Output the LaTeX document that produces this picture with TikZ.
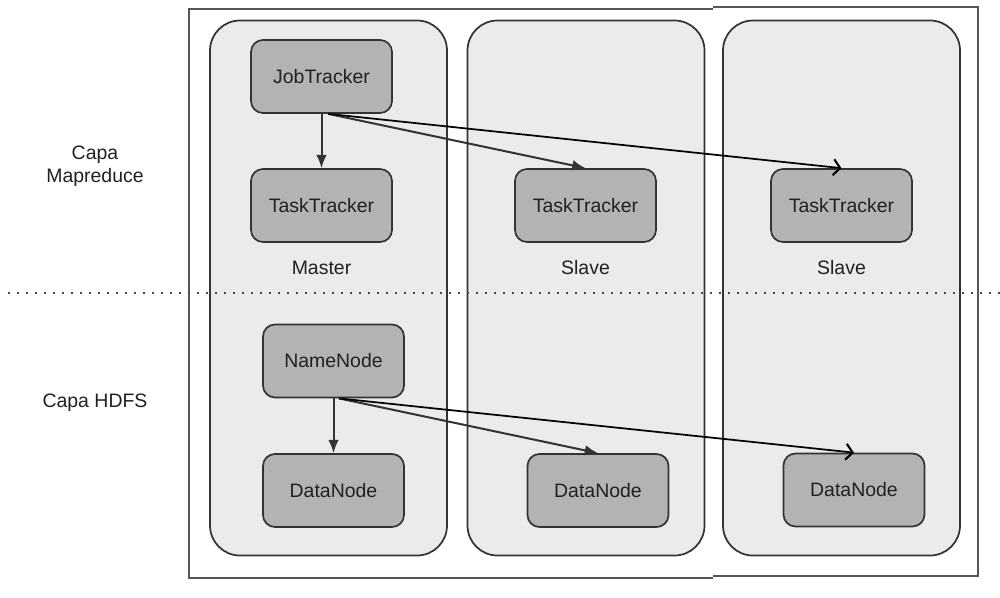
\documentclass[tikz,border=0pt]{standalone}
\usepackage{fontspec}
\setmainfont{Liberation Sans}
\usetikzlibrary{arrows.meta}
\definecolor{colfill}{HTML}{EBEBEB}
\definecolor{boxfill}{HTML}{B3B3B3}
\definecolor{strk}{HTML}{333333}
\definecolor{frame}{HTML}{555555}
\begin{document}
\begin{tikzpicture}[x=0.75pt,y=-0.75pt,
  column/.style={draw=strk,fill=colfill,line width=1.3pt,rounded corners=22.5pt,
    minimum width=177.75pt,minimum height=401.25pt,inner sep=0pt},
  comp/.style={draw=strk,fill=boxfill,line width=1.3pt,rounded corners=9pt,
    minimum width=105.75pt,minimum height=54.75pt,inner sep=0pt,
    font=\fontsize{14.6pt}{17pt}\selectfont,text=black!87},
  lbl/.style={font=\fontsize{14.6pt}{17pt}\selectfont,text=black!87,inner sep=0pt,align=center},
  solidarr/.style={draw=strk,line width=1.5pt,-{Latex[length=10pt,width=8pt]}},
  openarr/.style={draw=black,line width=1.3pt,-{Straight Barb[length=5pt,width=12pt,line width=1.6pt]}}
]
\useasboundingbox (0,0) rectangle (1000,597);
% outer frame
\draw[frame,line width=1.6pt] (713,9) -- (189,9) -- (189,578) -- (713,578);
\draw[frame,line width=1.6pt] (713,7) -- (978,7) -- (978,576) -- (713,576);
% columns
\node[column] (col1) at (328.5,288) {};
\node[column] (col2) at (586,288) {};
\node[column] (col3) at (841.5,288) {};
% dotted separator
\draw[strk!90,line width=1.5pt,dash pattern=on 1.5pt off 5.25pt] (8,293) -- (1000,293);
% components
\node[comp] (jt) at (321.5,76.5) {JobTracker};
\node[comp] (tt1) at (321.5,205.5) {TaskTracker};
\node[comp] (tt2) at (585.5,205.5) {TaskTracker};
\node[comp] (tt3) at (841.5,205.5) {TaskTracker};
\node[comp] (nn) at (333.5,361) {NameNode};
\node[comp] (dn1) at (333.5,490.5) {DataNode};
\node[comp] (dn2) at (598,490.5) {DataNode};
\node[comp] (dn3) at (854,490) {DataNode};
% labels
\node[lbl] (m) at (321.5,268) {Master};
\node[lbl] (s1) at (585.5,268) {Slave};
\node[lbl] (s2) at (841.5,268) {Slave};
\node[lbl] (capa1) at (95,166) {Capa\\Mapreduce};
\node[lbl] (capa2) at (95,403) {Capa HDFS};
% arrows
\draw[solidarr] (jt.south) -- (tt1.north);
\draw[solidarr] ([xshift=5pt]jt.south) -- (tt2.north);
\draw[openarr] ([xshift=5pt]jt.south) -- (tt3.north);
\draw[solidarr] (nn.south) -- (dn1.north);
\draw[solidarr] ([xshift=4pt]nn.south) -- (dn2.north);
\draw[openarr] ([xshift=4pt]nn.south) -- (dn3.north);
\end{tikzpicture}
\end{document}
